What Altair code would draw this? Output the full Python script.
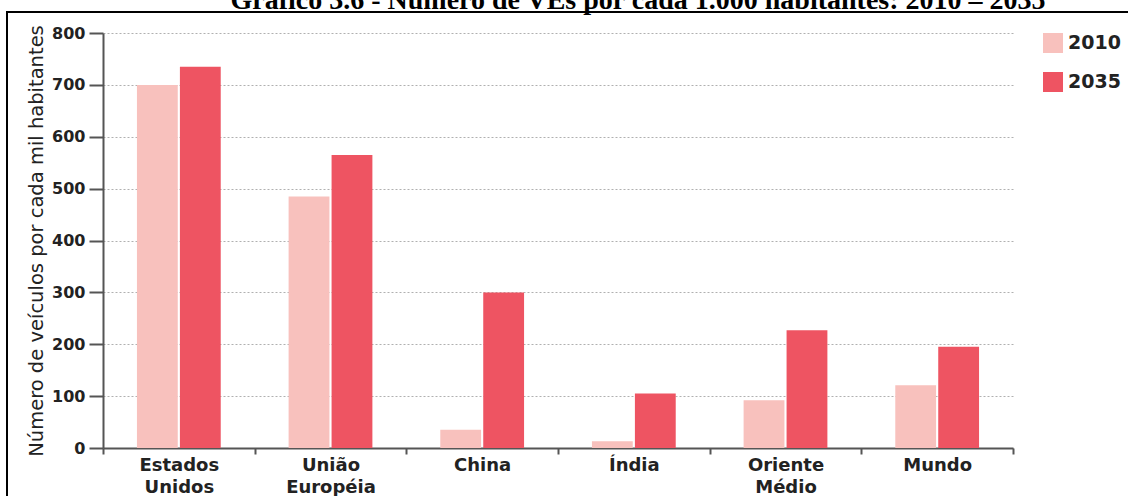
import altair as alt
import pandas as pd

# Vehicles per 1,000 inhabitants, 2010 vs 2035
regions = ["Estados Unidos", "União Européia", "China", "Índia", "Oriente Médio", "Mundo"]
years = ["2010", "2035"]
values_2010 = [700, 485, 35, 13, 92, 121]
values_2035 = [735, 565, 300, 105, 227, 195]
y_ticks = [0, 100, 200, 300, 400, 500, 600, 700, 800]
colors = ["#f8c1bd", "#ee5462"]

title_text = "Gráfico 3.6 - Número de VEs por cada 1.000 habitantes: 2010 – 2035"

rows = []
for r, a, b in zip(regions, values_2010, values_2035):
    rows.append({"regiao": r, "ano": years[0], "valor": a})
    rows.append({"regiao": r, "ano": years[1], "valor": b})
df = pd.DataFrame(rows)

W, H = 910, 415
PAD_L, PAD_T = 103, 33
FONT = "DejaVu Sans"

bars = alt.Chart(df).mark_bar().encode(
    x=alt.X(
        "regiao:N",
        sort=regions,
        title=None,
        scale=alt.Scale(paddingInner=0, paddingOuter=0),
        axis=alt.Axis(
            labelAngle=0,
            labelExpr="split(datum.label, ' ')",
            labelFont=FONT,
            labelFontWeight="bold",
            labelFontSize=18,
            labelLineHeight=22,
            labelColor="#222222",
            labelPadding=2,
            tickBand="extent",
            tickSize=6,
            tickColor="#555555",
            tickWidth=2,
            domainColor="#555555",
            domainWidth=2,
            grid=False,
        ),
    ),
    xOffset=alt.XOffset(
        "ano:N",
        sort=years,
        scale=alt.Scale(paddingInner=0.05, paddingOuter=0.79),
    ),
    y=alt.Y(
        "valor:Q",
        title="Número de veículos por cada mil habitantes",
        scale=alt.Scale(domain=[0, 800], nice=False),
        axis=alt.Axis(
            values=y_ticks,
            labelFont=FONT,
            labelFontWeight="bold",
            labelFontSize=16,
            labelColor="#222222",
            labelPadding=4,
            tickSize=14,
            tickColor="#555555",
            tickWidth=2,
            domainColor="#555555",
            domainWidth=2,
            grid=True,
            gridColor="#b0b0b0",
            gridDash=[2, 2],
            gridWidth=1,
            titleFont=FONT,
            titleFontSize=19.5,
            titleFontWeight="normal",
            titleColor="#222222",
            titlePadding=5,
        ),
    ),
    color=alt.Color(
        "ano:N",
        sort=years,
        scale=alt.Scale(domain=years, range=colors),
        legend=alt.Legend(
            title=None,
            orient="none",
            legendX=940,
            legendY=0,
            symbolType="square",
            symbolSize=400,
            symbolStrokeWidth=0,
            symbolOpacity=1,
            labelFont=FONT,
            labelFontWeight="bold",
            labelFontSize=19,
            labelColor="#222222",
            labelOffset=5,
            rowPadding=19,
            padding=0,
        ),
    ),
)

# heading text, partly above the page edge
heading = alt.Chart(pd.DataFrame({"t": [title_text]})).mark_text(
    font="Liberation Serif",
    fontWeight="bold",
    fontSize=28,
    color="#000000",
    align="center",
    baseline="alphabetic",
).encode(text="t:N", x=alt.value(535), y=alt.value(-24))

# frame lines around the figure
frame_top = alt.Chart(pd.DataFrame({"k": [0]})).mark_rule(
    color="#000000", strokeWidth=2
).encode(x=alt.value(-96), x2=alt.value(1030), y=alt.value(-21))

frame_left = alt.Chart(pd.DataFrame({"k": [0]})).mark_rule(
    color="#000000", strokeWidth=2
).encode(x=alt.value(-96), y=alt.value(-22), y2=alt.value(470))

chart = alt.layer(bars, heading, frame_top, frame_left).properties(
    width=W,
    height=H,
    autosize=alt.AutoSizeParams(type="none"),
    padding={"left": PAD_L, "top": PAD_T, "right": 1128 - PAD_L - W, "bottom": 496 - PAD_T - H},
    background="#ffffff",
).configure_view(stroke=None)

chart.save("out.html", embed_options={"renderer": "svg", "actions": False})
